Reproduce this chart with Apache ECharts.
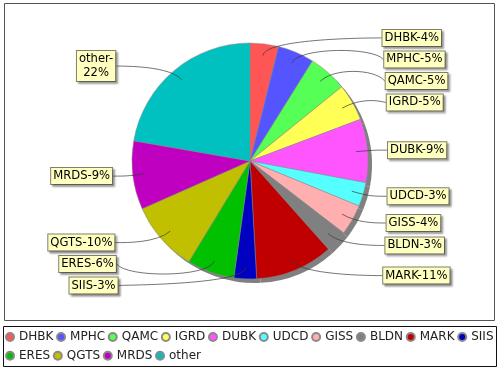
<!DOCTYPE html>
<html><head><meta charset="utf-8">
<script src="https://cdn.jsdelivr.net/npm/echarts@6/dist/echarts.min.js"></script>
<style>html,body{margin:0;padding:0;background:#fff}#c{width:500px;height:370px}</style>
</head><body><div id="c"></div>
<script>
const names = ['DHBK','MPHC','QAMC','IGRD','DUBK','UDCD','GISS','BLDN','MARK','SIIS','ERES','QGTS','MRDS','other'];
const values = [3.9, 5.0, 5.3, 5.1, 8.7, 3.3, 4.2, 3.0, 10.7, 3.1, 6.5, 9.7, 9.4, 22.3];
const colors = ['#FF5555','#5555FF','#55FF55','#FFFF55','#FF55FF','#55FFFF','#FFAFAF','#808080','#C00000','#0000C0','#00C000','#C0C000','#C000C0','#00C0C0'];
const wrapNames = ['other'];

const CX = 250, CY = 161, R = 118;
const FONT = 'DejaVu Sans';
const LINE_H = 14, PAD_V = 1, GAP = 5.5;
const R_LINK = 0.9 * R, R_ELBOW = 124;

// JFreeChart-like label distribution computed from the slice angles
const total = values.reduce((a, b) => a + b, 0);
let acc = 0;
const recs = values.map((v, i) => {
  const a = (acc + v / 2) / total * Math.PI * 2; acc += v;
  const lines = wrapNames.includes(names[i]) ? 2 : 1;
  return { i, a, right: Math.sin(a) >= 0, y: CY - R_ELBOW * Math.cos(a), h: lines * LINE_H + 2 * PAD_V };
});
function distribute(list, minY, maxY) {
  list.sort((p, q) => p.y - q.y);
  const overlap = () => list.some((r, k) => k > 0 && list[k - 1].y + list[k - 1].h / 2 + GAP > r.y - r.h / 2 + 0.01);
  if (overlap()) for (let k = 0; k < list.length - 1; k++) {
    const r0 = list[k], r1 = list[k + 1];
    if (r1.y - r1.h / 2 < r0.y + r0.h / 2 + GAP) r1.y = Math.min(maxY - r1.h / 2, r0.y + r0.h / 2 + GAP + r1.h / 2);
  }
  if (overlap()) for (let k = list.length - 1; k > 0; k--) {
    const r0 = list[k], r1 = list[k - 1];
    if (r1.y + r1.h / 2 + GAP > r0.y - r0.h / 2) r1.y = Math.max(minY + r1.h / 2, r0.y - r0.h / 2 - GAP - r1.h / 2);
  }
}
distribute(recs.filter(r => r.right), 8, 293.5);
distribute(recs.filter(r => !r.right), 8, 293.5);
const pos = {};
const links = [];
recs.forEach(r => {
  const dy = (r.y - CY) / 123;
  const off = 137 - 5.5 * dy * dy;
  const edge = r.right ? CX + off : CX - off;
  pos[r.i] = { y: r.y, right: r.right, edge };
  const s = Math.sin(r.a), c = Math.cos(r.a);
  const elbowX = CX + R_ELBOW * s, elbowY = CY - R_ELBOW * c;
  const anchorX = r.right ? CX + R_ELBOW : CX - R_ELBOW;
  links.push({
    type: 'bezierCurve', silent: true, z: 20,
    shape: { x1: edge, y1: r.y, cpx1: anchorX, cpy1: elbowY, cpx2: elbowX, cpy2: elbowY,
             x2: CX + R_LINK * s, y2: CY - R_LINK * c },
    style: { fill: null, stroke: '#3a3a3a', lineWidth: 0.7 }
  });
});

const chart = echarts.init(document.getElementById('c'), null, { renderer: 'canvas' });
const pieData = names.map((n, i) => ({ name: n, value: values[i] }));
chart.setOption({
  animation: false,
  color: colors,
  graphic: [
    { type: 'rect', silent: true, z: -10, shape: { x: 4.5, y: 3.5, width: 490, height: 317 }, style: { fill: '#fff', stroke: '#555', lineWidth: 1 } },
    { type: 'rect', silent: true, z: -10, shape: { x: 3.5, y: 326.5, width: 493, height: 40 }, style: { fill: '#fff', stroke: '#111', lineWidth: 1 } }
  ].concat(links),
  legend: {
    left: 5, right: 0, top: 329, padding: 0, icon: 'circle', itemWidth: 8, itemHeight: 8, itemGap: 2.7,
    selectedMode: false,
    textStyle: { fontFamily: FONT, fontSize: 12, color: '#222', lineHeight: 16 }
  },
  series: [
    {
      type: 'pie', center: [CX, CY], radius: R, startAngle: 90, clockwise: true,
      avoidLabelOverlap: false, z: 3, emphasis: { disabled: true },
      itemStyle: { borderColor: '#8a8a8a', borderWidth: 0.5 },
      data: pieData,
      label: {
        show: true, position: 'outside',
        formatter: p => p.name + '-' + (wrapNames.includes(p.name) ? '\n' : '') + Math.round(p.percent) + '%',
        fontFamily: FONT, fontSize: 11.6, color: '#000', lineHeight: LINE_H, align: 'center',
        backgroundColor: '#FFFFC0', borderColor: '#80806a', borderWidth: 1, padding: [PAD_V, 2],
        shadowColor: 'rgba(0,0,0,0.3)', shadowOffsetX: 2, shadowOffsetY: 2, shadowBlur: 2
      },
      labelLine: { show: false },
      labelLayout: function (p) {
        const q = pos[p.dataIndex];
        if (!q) return {};
        const w = p.labelRect.width;
        return { x: q.right ? q.edge + w / 2 : q.edge - w / 2, y: q.y, align: 'center', verticalAlign: 'middle' };
      }
    },
    {
      type: 'pie', center: [CX + 4, CY + 4], radius: R, startAngle: 90, clockwise: true,
      silent: true, z: 1, emphasis: { disabled: true },
      itemStyle: { color: '#808080', borderWidth: 0 },
      label: { show: false }, labelLine: { show: false },
      data: pieData
    }
  ]
});
</script></body></html>
